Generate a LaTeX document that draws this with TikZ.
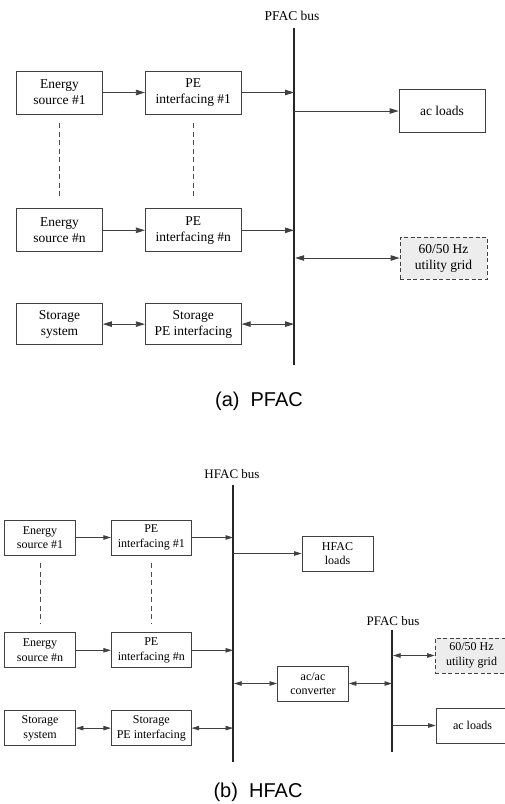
\documentclass[tikz,border=0pt]{standalone}
\usepackage{fontspec}
\setmainfont{Liberation Serif}
\newfontfamily\capfont{Liberation Sans}
\usetikzlibrary{arrows.meta,positioning}

\begin{document}
\begin{tikzpicture}[
    x=1pt, y=-1pt,
    box/.style={rectangle, draw=black!75, fill=white, line width=0.8pt,
                align=center, inner sep=1pt},
    srcA/.style={box, minimum width=86pt, minimum height=43pt,
                 font=\fontsize{13.5}{16}\selectfont},
    peA/.style={srcA, minimum width=96pt},
    srcB/.style={box, minimum width=71pt, minimum height=35pt,
                 font=\fontsize{12}{14.5}\selectfont},
    peB/.style={srcB, minimum width=80pt},
    utilbox/.style={dashed, dash pattern=on 4pt off 2.5pt, fill=black!7},
    gapline/.style={draw=black!70, line width=0.7pt, dash pattern=on 5pt off 3.5pt,
                    shorten <=9pt, shorten >=9pt},
    bus/.style={draw=black!85, line width=2.5pt},
    linkA/.style={draw=black!75, line width=0.8pt,
                  -{Triangle[length=9pt, width=5.5pt]}},
    biA/.style={linkA, {Triangle[length=9pt, width=5.5pt]}-{Triangle[length=9pt, width=5.5pt]}},
    linkB/.style={draw=black!75, line width=0.7pt,
                  -{Triangle[length=7.5pt, width=4.5pt]}},
    biB/.style={linkB, {Triangle[length=7.5pt, width=4.5pt]}-{Triangle[length=7.5pt, width=4.5pt]}},
    buslabel/.style={inner sep=0pt},
    caption/.style={font=\capfont\fontsize{20}{24}\selectfont},
]
    \useasboundingbox (0,0) rectangle (505,804);

    % (a) PFAC
    \coordinate (busAtop) at (294,28);
    \coordinate (busAbot) at (294,365);
    \draw[bus] (busAtop) -- (busAbot);
    \node[buslabel, font=\fontsize{13.5}{16}\selectfont] (busAlbl) at (292,16) {PFAC bus};

    \node[srcA] (es1) at (59.5,92.5) {Energy\\source \#1};
    \node[peA, right=42pt of es1] (pe1) {PE\\interfacing \#1};
    \node[srcA, below=94pt of es1] (esn) {Energy\\source \#n};
    \node[peA, right=42pt of esn] (pen) {PE\\interfacing \#n};
    \node[srcA, below=51pt of esn, minimum height=41pt] (ss) {Storage\\system};
    \node[peA, right=42pt of ss, minimum height=41pt] (spe) {Storage\\PE interfacing};
    \node[srcA] (acl) at (442,111) {ac loads};
    \node[srcA, utilbox, minimum width=87pt, minimum height=42pt] (ug) at (443.5,258) {60/50 Hz\\utility grid};

    \draw[gapline] (es1) -- (esn);
    \draw[gapline] (pe1) -- (pen);

    \draw[linkA] (es1) -- (pe1);
    \draw[linkA] (pe1) -- (pe1 -| busAtop);
    \draw[linkA] (esn) -- (pen);
    \draw[linkA] (pen) -- (pen -| busAtop);
    \draw[biA] (ss) -- (spe);
    \draw[biA] (spe) -- (spe -| busAtop);
    \draw[linkA] (acl -| busAtop) -- (acl);
    \draw[biA, shorten <=1.2pt] (ug -| busAtop) -- (ug);

    \node[caption] (capA) at (259,401) {(a)~~PFAC};

    % (b) HFAC
    \coordinate (busBtop) at (233,485);
    \coordinate (busBbot) at (233,762);
    \draw[bus, line width=2.2pt] (busBtop) -- (busBbot);
    \node[buslabel, font=\fontsize{13}{16}\selectfont] (busBlbl) at (232,474) {HFAC bus};

    \coordinate (busCtop) at (392,630);
    \coordinate (busCbot) at (392,752);
    \draw[bus, line width=2.2pt] (busCtop) -- (busCbot);
    \node[buslabel, font=\fontsize{13}{16}\selectfont] (busClbl) at (393,621) {PFAC bus};

    \node[srcB] (es1b) at (40,537.5) {Energy\\source \#1};
    \node[peB, right=35pt of es1b] (pe1b) {PE\\interfacing \#1};
    \node[srcB, below=77pt of es1b] (esnb) {Energy\\source \#n};
    \node[peB, right=35pt of esnb] (penb) {PE\\interfacing \#n};
    \node[srcB, below=42pt of esnb] (ssb) {Storage\\system};
    \node[peB, right=35pt of ssb] (speb) {Storage\\PE interfacing};
    \node[srcB] (hfl) at (337.5,553.5) {HFAC\\loads};
    \node[srcB] (acac) at (313,683.5) {ac/ac\\converter};
    \node[srcB, utilbox, minimum width=73pt] (ugb) at (471.5,655.5) {60/50 Hz\\utility grid};
    \node[srcB, minimum width=73pt] (aclb) at (472.5,725.5) {ac loads};

    \draw[gapline, shorten <=8pt, shorten >=8pt] (es1b) -- (esnb);
    \draw[gapline, shorten <=8pt, shorten >=8pt] (pe1b) -- (penb);

    \draw[linkB] (es1b) -- (pe1b);
    \draw[linkB] (pe1b) -- (pe1b -| busBtop);
    \draw[linkB] (esnb) -- (penb);
    \draw[linkB] (penb) -- (penb -| busBtop);
    \draw[biB] (ssb) -- (speb);
    \draw[biB] (speb) -- (speb -| busBtop);
    \draw[linkB] (hfl -| busBtop) -- (hfl);
    \draw[biB, shorten <=1.1pt] (acac -| busBtop) -- (acac);
    \draw[biB] (acac) -- (acac -| busCtop);
    \draw[biB, shorten <=1.1pt] (ugb -| busCtop) -- (ugb);
    \draw[linkB] (aclb -| busCtop) -- (aclb);

    \node[caption] (capB) at (258,792) {(b)~~HFAC};
\end{tikzpicture}
\end{document}
